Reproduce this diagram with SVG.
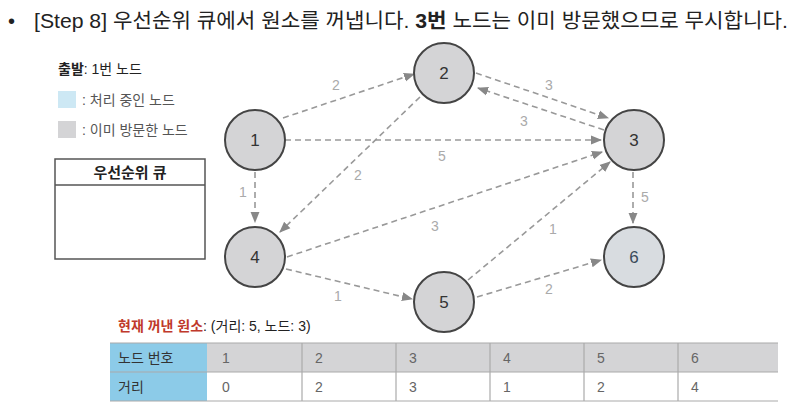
<svg xmlns="http://www.w3.org/2000/svg" width="800" height="412" viewBox="0 0 800 412">
<style>
text{font-family:"Liberation Sans","Noto Sans CJK KR",sans-serif}
.n circle{fill:#d4d4d6;stroke:#444;stroke-width:2}
.n text{font-size:17px;fill:#333;text-anchor:middle}
.e line{stroke:#999;stroke-width:1.6;stroke-dasharray:6,4;marker-end:url(#a)}
.w{font-size:14px;fill:#aaa;text-anchor:middle}
.t{font-size:14px;fill:#555}
</style>
<defs><marker id="a" viewBox="0 0 10 10" refX="9" refY="5" markerWidth="7" markerHeight="7" orient="auto"><path d="M0,1 L10,5 L0,9z" fill="#888"/></marker></defs>
<rect width="800" height="412" fill="#fff"/>
<text x="8" y="28" font-size="20" fill="#222">•</text>
<text x="34" y="28" font-size="20.5" fill="#222" textLength="754" lengthAdjust="spacingAndGlyphs">[Step 8] 우선순위 큐에서 원소를 꺼냅니다. <tspan font-weight="bold">3번</tspan> 노드는 이미 방문했으므로 무시합니다.</text>
<text x="58" y="74" font-size="14" fill="#222"><tspan font-weight="bold">출발</tspan>: 1번 노드</text>
<rect x="58" y="91" width="18" height="17" fill="#cde8f4"/>
<text x="82" y="105" class="t">: 처리 중인 노드</text>
<rect x="58" y="121" width="18" height="17" fill="#d4d4d6"/>
<text x="82" y="135" class="t">: 이미 방문한 노드</text>
<rect x="55" y="159" width="150" height="100" fill="#fff" stroke="#555" stroke-width="1.5"/>
<line x1="55" y1="185" x2="205" y2="185" stroke="#555" stroke-width="1.5"/>
<text x="130" y="178" font-size="15" font-weight="bold" fill="#222" text-anchor="middle">우선순위 큐</text>
<g id="edges" class="e">
<line x1="283" y1="118" x2="414" y2="74"/>
<line x1="285" y1="140" x2="601" y2="140"/>
<line x1="255" y1="172" x2="255" y2="222"/>
<line x1="420" y1="97" x2="280" y2="232"/>
<line x1="476" y1="73" x2="608" y2="118"/>
<line x1="604" y1="130" x2="478" y2="88"/>
<line x1="287" y1="257" x2="602" y2="152"/>
<line x1="286" y1="269" x2="412" y2="299"/>
<line x1="468" y1="280" x2="610" y2="162"/>
<line x1="633" y1="172" x2="633" y2="223"/>
<line x1="477" y1="297" x2="601" y2="260"/>
</g>
<g id="weights">
<text class="w" x="336" y="90">2</text>
<text class="w" x="442" y="161">5</text>
<text class="w" x="243" y="197">1</text>
<text class="w" x="358" y="180">2</text>
<text class="w" x="549" y="90">3</text>
<text class="w" x="524" y="126">3</text>
<text class="w" x="435" y="231">3</text>
<text class="w" x="338" y="301">1</text>
<text class="w" x="553" y="234">1</text>
<text class="w" x="645" y="202">5</text>
<text class="w" x="549" y="294">2</text>
</g>
<g id="n1" class="n"><circle cx="255" cy="140" r="30"/><text x="255" y="146">1</text></g>
<g id="n2" class="n"><circle cx="444" cy="73" r="30"/><text x="444" y="79">2</text></g>
<g id="n3" class="n"><circle cx="634" cy="140" r="30"/><text x="634" y="146">3</text></g>
<g id="n4" class="n"><circle cx="255" cy="257" r="30"/><text x="255" y="263">4</text></g>
<g id="n5" class="n"><circle cx="444" cy="302" r="30"/><text x="444" y="308">5</text></g>
<g id="n6" class="n"><circle cx="634" cy="257" r="30" style="fill:#d8dce0"/><text x="634" y="263" style="fill:#3a4a5a">6</text></g>
<text x="118" y="331" font-size="14" fill="#222"><tspan fill="#c0392b" font-weight="bold">현재 꺼낸 원소</tspan>: (거리: 5, 노드: 3)</text>
<g id="table" font-size="14">
<rect x="110" y="343" width="668" height="29" fill="#d4d4d6"/>
<rect x="110" y="343" width="97" height="58" fill="#8ccbe8"/>
<g stroke="#aaa" stroke-width="1.2">
<line x1="110" y1="343" x2="778" y2="343"/><line x1="110" y1="372" x2="778" y2="372"/><line x1="110" y1="401" x2="778" y2="401"/>
<line x1="302" y1="343" x2="302" y2="401"/><line x1="396" y1="343" x2="396" y2="401"/><line x1="490" y1="343" x2="490" y2="401"/><line x1="584" y1="343" x2="584" y2="401"/><line x1="678" y1="343" x2="678" y2="401"/>
</g>
<g fill="#333">
<text x="118" y="363">노드 번호</text><text x="118" y="392">거리</text>
<text x="222" y="363" fill="#666">1</text><text x="315" y="363" fill="#666">2</text><text x="409" y="363" fill="#666">3</text><text x="503" y="363" fill="#666">4</text><text x="597" y="363" fill="#666">5</text><text x="691" y="363" fill="#666">6</text>
<text x="222" y="392" fill="#666">0</text><text x="315" y="392" fill="#666">2</text><text x="409" y="392" fill="#666">3</text><text x="503" y="392" fill="#666">1</text><text x="597" y="392" fill="#666">2</text><text x="691" y="392" fill="#666">4</text>
</g>
</g>
</svg>
